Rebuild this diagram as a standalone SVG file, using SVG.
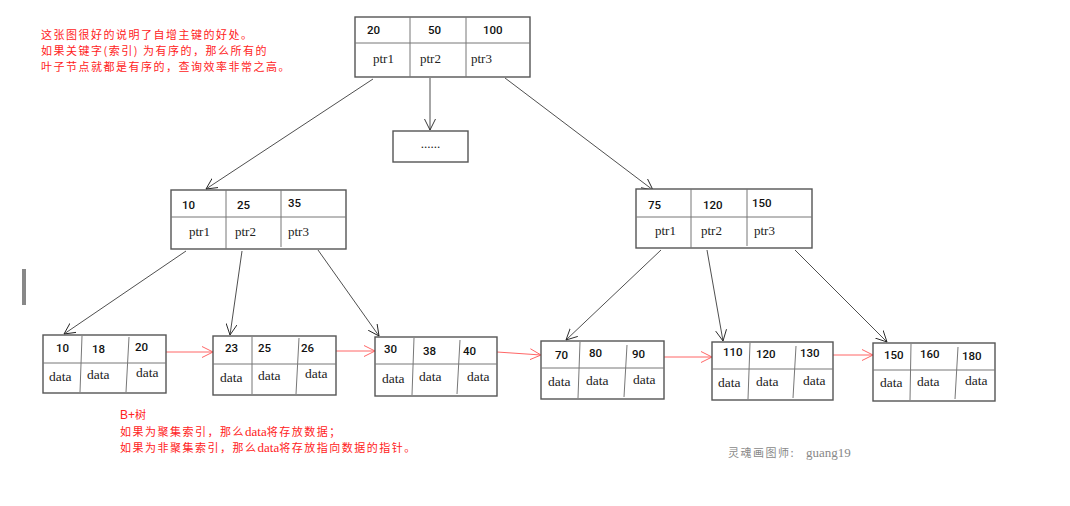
<svg xmlns="http://www.w3.org/2000/svg" width="1070" height="506" viewBox="0 0 1070 506">
<style>
.box{fill:#fff;stroke:#555;stroke-width:1.4}
.div{stroke:#777;stroke-width:1;fill:none}
.num{font-family:Roboto,"Liberation Sans",sans-serif;font-size:11.5px;font-weight:500;fill:#111}
.ptr{font-family:"Liberation Serif",serif;font-size:13px;fill:#222}
.dat{font-family:"Liberation Serif",serif;font-size:13.5px;fill:#222}
.conn{stroke:#222;stroke-width:0.8;fill:none}
.link{stroke:#f55;stroke-width:0.9;fill:none}
.note{font-family:"Noto Sans CJK SC",sans-serif;font-size:11px;letter-spacing:1.5px;fill:#f22}
.sig{font-family:"Noto Sans CJK SC",sans-serif;font-size:11px;letter-spacing:1.5px;fill:#888}
.lat{font-family:"Liberation Serif",serif;font-size:13px;letter-spacing:0}
.lats{font-family:"Liberation Sans",sans-serif;font-size:12px;letter-spacing:0}
</style>
<defs>
<marker id="ab" viewBox="0 0 12 12" refX="11" refY="6" markerWidth="12" markerHeight="12" markerUnits="userSpaceOnUse" orient="auto">
<path d="M0,0.5 L11,6 L0,11.5" fill="none" stroke="#222" stroke-width="0.9"/>
</marker>
<marker id="ar" viewBox="0 0 12 12" refX="11" refY="6" markerWidth="12" markerHeight="12" markerUnits="userSpaceOnUse" orient="auto">
<path d="M0,0.5 L11,6 L0,11.5" fill="none" stroke="#f55" stroke-width="0.9"/>
</marker>
</defs>
<rect width="1070" height="506" fill="#fff"/>
<rect x="22" y="269" width="4" height="36" fill="#888"/>

<g id="note-top">
<text class="note" x="41" y="39">这张图很好的说明了自增主键的好处。</text>
<text class="note" x="41" y="55">如果关键字(索引) 为有序的，那么所有的</text>
<text class="note" x="41" y="71">叶子节点就都是有序的，查询效率非常之高。</text>
</g>

<g id="connectors">
<line class="conn" x1="373" y1="79" x2="206" y2="189" marker-end="url(#ab)"/>
<line class="conn" x1="430" y1="78" x2="430" y2="130" marker-end="url(#ab)"/>
<line class="conn" x1="505" y1="78" x2="653" y2="190" marker-end="url(#ab)"/>
<line class="conn" x1="186" y1="251" x2="64" y2="334" marker-end="url(#ab)"/>
<line class="conn" x1="242" y1="251" x2="230" y2="335" marker-end="url(#ab)"/>
<line class="conn" x1="318" y1="250" x2="379" y2="336" marker-end="url(#ab)"/>
<line class="conn" x1="661" y1="250" x2="566" y2="340" marker-end="url(#ab)"/>
<line class="conn" x1="707" y1="250" x2="723" y2="341" marker-end="url(#ab)"/>
<line class="conn" x1="795" y1="250" x2="887" y2="342" marker-end="url(#ab)"/>
<line class="link" x1="166" y1="352" x2="213" y2="352" marker-end="url(#ar)"/>
<line class="link" x1="336" y1="351" x2="375" y2="351" marker-end="url(#ar)"/>
<line class="link" x1="497" y1="352" x2="541" y2="355" marker-end="url(#ar)"/>
<line class="link" x1="664" y1="357" x2="712" y2="357" marker-end="url(#ar)"/>
<line class="link" x1="833" y1="355" x2="873" y2="355" marker-end="url(#ar)"/>
</g>

<g id="root">
<rect class="box" x="355" y="17" width="175" height="60"/>
<line class="div" x1="355" y1="43" x2="530" y2="43"/>
<line class="div" x1="410" y1="17" x2="410" y2="77"/>
<line class="div" x1="466" y1="17" x2="466" y2="77"/>
<text class="num" x="367" y="34">20</text>
<text class="num" x="428" y="34">50</text>
<text class="num" x="483" y="34">100</text>
<text class="ptr" x="373" y="63">ptr1</text>
<text class="ptr" x="420" y="63">ptr2</text>
<text class="ptr" x="471" y="63">ptr3</text>
</g>

<g id="ellipsis">
<rect class="box" x="393" y="131" width="75" height="31"/>
<text class="ptr" x="430.5" y="148" text-anchor="middle" font-size="11">......</text>
</g>

<g id="mid-left">
<rect class="box" x="171" y="190" width="175" height="59"/>
<line class="div" x1="171" y1="217" x2="346" y2="217"/>
<line class="div" x1="226" y1="190" x2="226" y2="249"/>
<line class="div" x1="281" y1="190" x2="281" y2="247"/>
<text class="num" x="182" y="209">10</text>
<text class="num" x="237" y="209">25</text>
<text class="num" x="288" y="207">35</text>
<text class="ptr" x="189" y="236">ptr1</text>
<text class="ptr" x="235" y="236">ptr2</text>
<text class="ptr" x="288" y="236">ptr3</text>
</g>

<g id="mid-right">
<rect class="box" x="636" y="189" width="176" height="59"/>
<line class="div" x1="636" y1="217" x2="812" y2="217"/>
<line class="div" x1="691" y1="189" x2="691" y2="248"/>
<line class="div" x1="747" y1="189" x2="747" y2="246"/>
<text class="num" x="648" y="209">75</text>
<text class="num" x="703" y="209">120</text>
<text class="num" x="752" y="207">150</text>
<text class="ptr" x="655" y="235">ptr1</text>
<text class="ptr" x="701" y="235">ptr2</text>
<text class="ptr" x="754" y="235">ptr3</text>
</g>

<g id="leaf-1">
<rect class="box" x="43" y="335" width="123" height="58"/>
<line class="div" x1="43" y1="363" x2="166" y2="363"/>
<line class="div" x1="82" y1="336" x2="80" y2="392"/>
<line class="div" x1="129" y1="337" x2="126" y2="392"/>
<text class="num" x="56" y="352">10</text>
<text class="num" x="92" y="353">18</text>
<text class="num" x="135" y="351">20</text>
<text class="dat" x="49" y="381">data</text>
<text class="dat" x="87" y="379">data</text>
<text class="dat" x="136" y="377">data</text>
</g>

<g id="leaf-2">
<rect class="box" x="213" y="336" width="123" height="59"/>
<line class="div" x1="213" y1="364" x2="336" y2="364"/>
<line class="div" x1="252" y1="337" x2="252" y2="394"/>
<line class="div" x1="299" y1="338" x2="296" y2="394"/>
<text class="num" x="225" y="352">23</text>
<text class="num" x="258" y="352">25</text>
<text class="num" x="301" y="352">26</text>
<text class="dat" x="220" y="382">data</text>
<text class="dat" x="258" y="380">data</text>
<text class="dat" x="305" y="378">data</text>
</g>

<g id="leaf-3">
<rect class="box" x="375" y="337" width="122" height="59"/>
<line class="div" x1="375" y1="364" x2="497" y2="364"/>
<line class="div" x1="414" y1="338" x2="412" y2="395"/>
<line class="div" x1="460" y1="340" x2="457" y2="394"/>
<text class="num" x="384" y="353">30</text>
<text class="num" x="423" y="355">38</text>
<text class="num" x="463" y="355">40</text>
<text class="dat" x="382" y="383">data</text>
<text class="dat" x="419" y="381">data</text>
<text class="dat" x="467" y="381">data</text>
</g>

<g id="leaf-4">
<rect class="box" x="541" y="341" width="123" height="58"/>
<line class="div" x1="541" y1="368" x2="664" y2="368"/>
<line class="div" x1="580" y1="342" x2="578" y2="398"/>
<line class="div" x1="627" y1="345" x2="624" y2="397"/>
<text class="num" x="555" y="359">70</text>
<text class="num" x="589" y="357">80</text>
<text class="num" x="632" y="358">90</text>
<text class="dat" x="548" y="386">data</text>
<text class="dat" x="586" y="385">data</text>
<text class="dat" x="633" y="384">data</text>
</g>

<g id="leaf-5">
<rect class="box" x="712" y="342" width="121" height="58"/>
<line class="div" x1="712" y1="369" x2="833" y2="369"/>
<line class="div" x1="750" y1="343" x2="748" y2="399"/>
<line class="div" x1="796" y1="346" x2="793" y2="398"/>
<text class="num" x="723" y="356">110</text>
<text class="num" x="756" y="358">120</text>
<text class="num" x="800" y="357">130</text>
<text class="dat" x="718" y="387">data</text>
<text class="dat" x="756" y="386">data</text>
<text class="dat" x="803" y="385">data</text>
</g>

<g id="leaf-6">
<rect class="box" x="873" y="343" width="122" height="58"/>
<line class="div" x1="873" y1="370" x2="995" y2="370"/>
<line class="div" x1="911" y1="344" x2="910" y2="400"/>
<line class="div" x1="958" y1="347" x2="955" y2="399"/>
<text class="num" x="884" y="359">150</text>
<text class="num" x="920" y="358">160</text>
<text class="num" x="962" y="360">180</text>
<text class="dat" x="880" y="387">data</text>
<text class="dat" x="917" y="386">data</text>
<text class="dat" x="965" y="385">data</text>
</g>

<g id="note-bottom">
<text class="note" x="120" y="419"><tspan class="lats">B+</tspan>树</text>
<text class="note" x="120" y="436">如果为聚集索引，那么<tspan class="lat">data</tspan>将存放数据；</text>
<text class="note" x="120" y="452">如果为非聚集索引，那么<tspan class="lat">data</tspan>将存放指向数据的指针。</text>
</g>

<g id="signature">
<text class="sig" x="728" y="457">灵魂画图师:</text>
<text class="sig" x="806" y="457"><tspan class="lat">guang19</tspan></text>
</g>
</svg>
